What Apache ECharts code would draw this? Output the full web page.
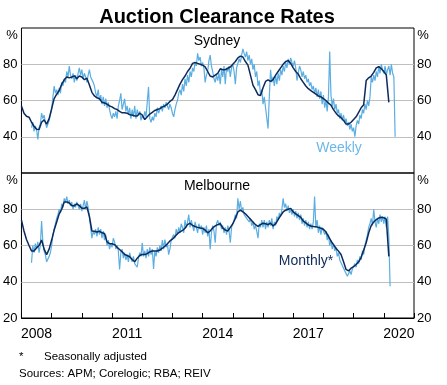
<!DOCTYPE html>
<html>
<head>
<meta charset="utf-8">
<script src="https://cdn.jsdelivr.net/npm/echarts@6/dist/echarts.min.js"></script>
<style>
html,body{margin:0;padding:0;background:#fff;}
#c{width:447px;height:385px;}
</style>
</head>
<body>
<div id="c"></div>
<script>
// ---- Data (%), monthly from Jan 2008; weekly sampled twice a month from May 2008 ----
const yearLabels = ['2008','2009','2010','2011','2012','2013','2014','2015','2016','2017','2018','2019','2020'];
const monthlyStart = 2008;          // first monthly observation: Jan 2008
const weeklyStart = 2008 + 4 / 12;  // first weekly observation: May 2008
const yTicks = [20, 40, 60, 80, 100];

const sydMonthly = [
  57, 53, 51.3, 50.8, 48, 45.8, 44.2, 44, 48, 49.3, 47, 50,
  55.5, 61, 63.5, 65.5, 69, 71.4, 73, 72.5, 73, 73.6, 72, 73.5,
  73, 71.5, 72.3, 68.5, 64.5, 62.5, 61.5, 61, 59, 58.6, 58, 57,
  56.5, 55.5, 55, 54, 53.2, 53.2, 53, 52.2, 52, 51.5, 51.5, 53,
  52, 49.5, 51, 52.5, 53.5, 54.5, 55, 55.5, 56.5, 57, 58, 59.5,
  60.5, 63, 66, 69, 71.5, 73.5, 76, 77.8, 80.5, 81, 80.5, 80,
  79.5, 78.5, 76, 73.5, 73, 74, 75, 77.5, 77, 77, 77.8, 78.5,
  80, 81.5, 83.5, 84.5, 84, 81.5, 79.5, 74, 68.5, 66, 63.2, 62.8,
  67, 70.5, 71.4, 70.5, 71.5, 74, 76, 78, 80, 81.5, 82, 80.5,
  78, 76, 74.5, 72, 70, 68, 66.5, 65.5, 64.5, 63.5, 62.5, 62,
  61, 60, 58.5, 57.5, 55, 53, 51.5, 50.5, 49, 47, 47, 48,
  49.5, 51, 53.5, 56, 57.7, 71, 72.5, 73.5, 75.5, 78, 78.7, 77.5,
  76, 74, 59
];

const melMonthly = [
  74, 68, 63.3, 60, 57, 57, 58.7, 60, 63, 58, 55, 58,
  63, 68.5, 73, 77.5, 80, 84, 84, 83.5, 82, 82, 83, 82,
  80.5, 80.5, 81.3, 76, 68, 67.9, 67.5, 67.9, 67, 66.6, 62, 61,
  61, 60.5, 59, 57.8, 56.5, 55, 54.5, 53.8, 52.3, 51, 53, 54.5,
  55, 55, 55.5, 56.5, 57, 57, 57, 57.5, 58.5, 59.6, 61, 62.5,
  63.5, 65, 66.5, 67.5, 68.3, 69.5, 71.5, 72.3, 71, 70.5, 70, 69.7,
  69.5, 68.5, 67, 68, 69.7, 70.8, 71.5, 72, 69.7, 68.5, 68, 70,
  72, 75, 78.5, 79.5, 78.5, 77.5, 76, 74.5, 73, 71.5, 70.6, 71.5,
  72.3, 72, 71.5, 72.3, 70.8, 72, 74.3, 76.5, 78.5, 79.5, 80, 80.5,
  78.5, 77.5, 76.5, 75.5, 73.5, 72.5, 71.3, 70.8, 70.5, 70.3, 70, 69.5,
  69, 67.5, 65, 62.5, 60.5, 58.5, 56.9, 55, 51, 46.8, 46, 47.5,
  48.3, 49.5, 51, 53.5, 57.5, 61.5, 67, 71, 73, 74.3, 75.2, 75.6,
  75.3, 74.5, 54
];

const sydWeekly = [
  45, 48, 43, 46, 44, 38.5, 45, 47, 53, 50, 52, 48, 45, 47, 49, 50,
  55, 62, 68, 64, 66, 63, 67, 64, 70, 68, 72, 70, 76, 73, 79, 74, 72, 75, 70, 74, 71, 75, 78, 74, 77, 72, 75, 73,
  70, 74, 77, 73, 72, 70, 68, 64, 62, 66, 60, 63, 58, 62, 57, 61, 56, 59, 55, 52, 50, 53, 51, 54,
  50, 57, 60, 64, 55, 58, 61, 54, 57, 52, 56, 50, 55, 51, 57, 50, 55, 52, 54, 49, 52, 50, 54, 51,
  52, 67.5, 50, 48, 51, 49, 53, 51, 56, 53, 55, 57, 54, 58, 56, 59, 57, 55, 58, 56, 53, 51, 55, 58,
  60, 64, 66, 63, 69, 65, 72, 68, 74, 70, 76, 73, 78, 76, 81, 79, 86, 82, 84, 79, 81, 78, 70, 74,
  76, 82, 85, 79, 76, 72, 70, 74, 71, 75, 69, 77, 73, 79, 69, 78, 76, 79, 73, 78, 80, 76, 69, 78,
  79, 83, 81, 85, 88.5, 86, 84, 87, 82, 85, 80, 83, 77, 80, 73, 76, 68, 71, 63, 66, 58, 62, 56, 55,
  44.5, 62, 77, 70, 73, 68, 74, 69, 75, 71, 77, 74, 79, 76, 81, 78, 83, 80, 83.5, 81, 79, 82, 78, 71,
  75, 79, 77, 73, 76, 72, 74, 70, 72, 68, 70, 66, 68, 64, 67, 62, 66, 61, 65, 58, 63, 56, 60, 54,
  62, 87, 63, 57, 61, 55, 58, 53, 55, 50, 53, 49, 52, 48, 50, 46, 48, 44, 47, 43, 45, 40, 46, 49,
  47, 52, 50, 55, 53, 58, 55, 60, 57, 62, 73, 70, 74, 71, 76, 73, 79, 75, 80, 77, 75, 79, 74, 77,
  79, 74, 80, 75, 73, 40
];

const melWeekly = [
  50.5, 60, 56, 61, 58, 62, 56, 60, 73.5, 62, 57, 55, 51, 50.5, 54, 56,
  60, 66, 69, 72, 75, 77, 80, 78, 83, 81, 86, 84, 87, 83, 85, 82, 84, 80, 83, 81, 84, 82, 80, 83,
  79, 82, 85, 80, 84.5, 81, 76, 70, 64, 68, 66, 69, 65, 70, 66, 69, 64, 68, 63, 66, 60, 63, 58, 61,
  59, 64, 62, 58, 60, 57, 46.8, 56, 58, 53, 56, 52, 55, 51, 56, 53, 51, 54, 50, 49, 48, 53, 56, 54,
  61.5, 54, 57, 53, 58, 54, 59, 55, 58, 47, 57, 54, 59, 56, 60, 57, 63, 58, 63.3, 59, 61, 55, 58, 63,
  62, 66, 64, 69, 66, 70, 67, 72, 70, 67, 74, 70, 73, 77, 70, 74, 71, 68, 73, 70, 67, 72, 69, 71,
  66, 70, 67, 71, 65, 69, 58, 67, 71, 68, 61.5, 72, 74, 71, 73, 69, 71, 67, 70, 66, 71, 68, 61.5, 70,
  71, 74, 77, 75, 86, 80, 84.5, 79, 81, 77, 78, 75, 76, 73, 75, 71, 73, 69, 71, 68, 64, 72, 70, 74,
  70, 74, 69, 73, 70, 74, 71, 75, 69, 73, 71, 76, 74, 78, 76, 80, 86, 81, 83, 79, 82, 78, 80, 77,
  80, 76, 79, 75, 78, 74, 77, 72, 75, 71, 74, 70, 73, 69, 72, 69, 73, 87, 70, 74, 67, 71, 66, 70,
  70, 66, 68, 63, 66, 60, 63, 58, 61, 57, 59, 54, 56, 52, 53, 49, 50, 46, 47, 43, 42.5, 46, 44, 47,
  46, 50, 48, 52, 50, 54, 52, 57, 55, 60, 63, 66, 70, 72, 75, 71, 80, 73, 70, 75, 72, 77, 73, 76,
  72, 76, 70, 76, 65, 37.5
];

// ---- helpers to pair values with their dates ----
function monthlyPairs(arr) { return arr.map((v, i) => [monthlyStart + i / 12, v]); }
function weeklyPairs(arr) { return arr.map((v, i) => [weeklyStart + i / 24, v]); }

const FONT = "'Liberation Sans', Arial, sans-serif";
const WEEKLY_COLOR = '#5BAEE2';
const MONTHLY_COLOR = '#0C2A5B';

const chart = echarts.init(document.getElementById('c'), null, { renderer: 'canvas' });

function yAxisDef(gridIndex, pos, shown, split) {
  return {
    type: 'value', gridIndex: gridIndex, position: pos,
    min: 20, max: 100, interval: 20,
    axisLine: { show: false }, axisTick: { show: false },
    axisLabel: {
      color: '#000', fontSize: 13, fontFamily: FONT, margin: pos === 'left' ? 4 : 3,
      formatter: v => (shown.indexOf(v) >= 0 ? String(v) : '')
    },
    splitLine: { show: split, showMinLine: false, showMaxLine: false, lineStyle: { color: '#BFBFBF', width: 1 } }
  };
}

const option = {
  animation: false,
  backgroundColor: '#fff',
  grid: [
    { left: 21, right: 33, top: 28, height: 145, show: true, borderColor: '#000', borderWidth: 1, backgroundColor: 'transparent' },
    { left: 21, right: 33, top: 173, height: 145, show: true, borderColor: '#000', borderWidth: 1, backgroundColor: 'transparent' }
  ],
  xAxis: [
    { type: 'value', gridIndex: 0, min: 2008, max: 2021, show: false },
    { type: 'value', gridIndex: 1, min: 2008, max: 2021, show: false, position: 'top' },
    {
      type: 'category', gridIndex: 1, position: 'bottom', data: yearLabels, boundaryGap: true,
      axisLine: { show: true, lineStyle: { color: '#000', width: 1 } },
      axisTick: { show: true, inside: true, length: 5, interval: 0, lineStyle: { color: '#000' } },
      axisLabel: { interval: 2, color: '#000', fontSize: 14, fontFamily: FONT, margin: 9 },
      splitLine: { show: false }
    }
  ],
  yAxis: [
    yAxisDef(0, 'left', [40, 60, 80], true),
    yAxisDef(0, 'right', [40, 60, 80], false),
    yAxisDef(1, 'left', [20, 40, 60, 80], true),
    yAxisDef(1, 'right', [20, 40, 60, 80], false)
  ],
  series: [
    { name: 'Sydney weekly', type: 'line', xAxisIndex: 0, yAxisIndex: 0, data: weeklyPairs(sydWeekly),
      showSymbol: false, lineStyle: { color: WEEKLY_COLOR, width: 1.2 }, z: 2 },
    { name: 'Sydney monthly', type: 'line', xAxisIndex: 0, yAxisIndex: 0, data: monthlyPairs(sydMonthly),
      showSymbol: false, lineStyle: { color: MONTHLY_COLOR, width: 1.5 }, z: 3 },
    { name: 'Melbourne weekly', type: 'line', xAxisIndex: 1, yAxisIndex: 2, data: weeklyPairs(melWeekly),
      showSymbol: false, lineStyle: { color: WEEKLY_COLOR, width: 1.2 }, z: 2 },
    { name: 'Melbourne monthly', type: 'line', xAxisIndex: 1, yAxisIndex: 2, data: monthlyPairs(melMonthly),
      showSymbol: false, lineStyle: { color: MONTHLY_COLOR, width: 1.5 }, z: 3 }
  ],
  graphic: [
    { type: 'text', x: 217, y: 17, style: { text: 'Auction Clearance Rates', font: "bold 20px " + FONT, fill: '#000', align: 'center', verticalAlign: 'middle' } },
    { type: 'text', x: 217, y: 41, style: { text: 'Sydney', font: "14px " + FONT, fill: '#000', align: 'center', verticalAlign: 'middle' } },
    { type: 'text', x: 217, y: 186, style: { text: 'Melbourne', font: "14px " + FONT, fill: '#000', align: 'center', verticalAlign: 'middle' } },
    { type: 'text', x: 339, y: 148, style: { text: 'Weekly', font: "14px " + FONT, fill: '#6DB8E8', align: 'center', verticalAlign: 'middle' } },
    { type: 'text', x: 306, y: 261, style: { text: 'Monthly*', font: "14px " + FONT, fill: MONTHLY_COLOR, align: 'center', verticalAlign: 'middle' } },
    { type: 'text', x: 12, y: 35, style: { text: '%', font: "13px " + FONT, fill: '#000', align: 'center', verticalAlign: 'middle' } },
    { type: 'text', x: 423, y: 35, style: { text: '%', font: "13px " + FONT, fill: '#000', align: 'center', verticalAlign: 'middle' } },
    { type: 'text', x: 12, y: 180.5, style: { text: '%', font: "13px " + FONT, fill: '#000', align: 'center', verticalAlign: 'middle' } },
    { type: 'text', x: 423, y: 180.5, style: { text: '%', font: "13px " + FONT, fill: '#000', align: 'center', verticalAlign: 'middle' } },
    { type: 'text', x: 19, y: 356.5, style: { text: '*', font: "11.5px " + FONT, fill: '#000', align: 'left', verticalAlign: 'middle' } },
    { type: 'text', x: 44, y: 356.5, style: { text: 'Seasonally adjusted', font: "11.5px " + FONT, fill: '#000', align: 'left', verticalAlign: 'middle' } },
    { type: 'text', x: 19, y: 373.5, style: { text: 'Sources: APM; Corelogic; RBA; REIV', font: "11.5px " + FONT, fill: '#000', align: 'left', verticalAlign: 'middle' } }
  ]
};

chart.setOption(option);
</script>
</body>
</html>
